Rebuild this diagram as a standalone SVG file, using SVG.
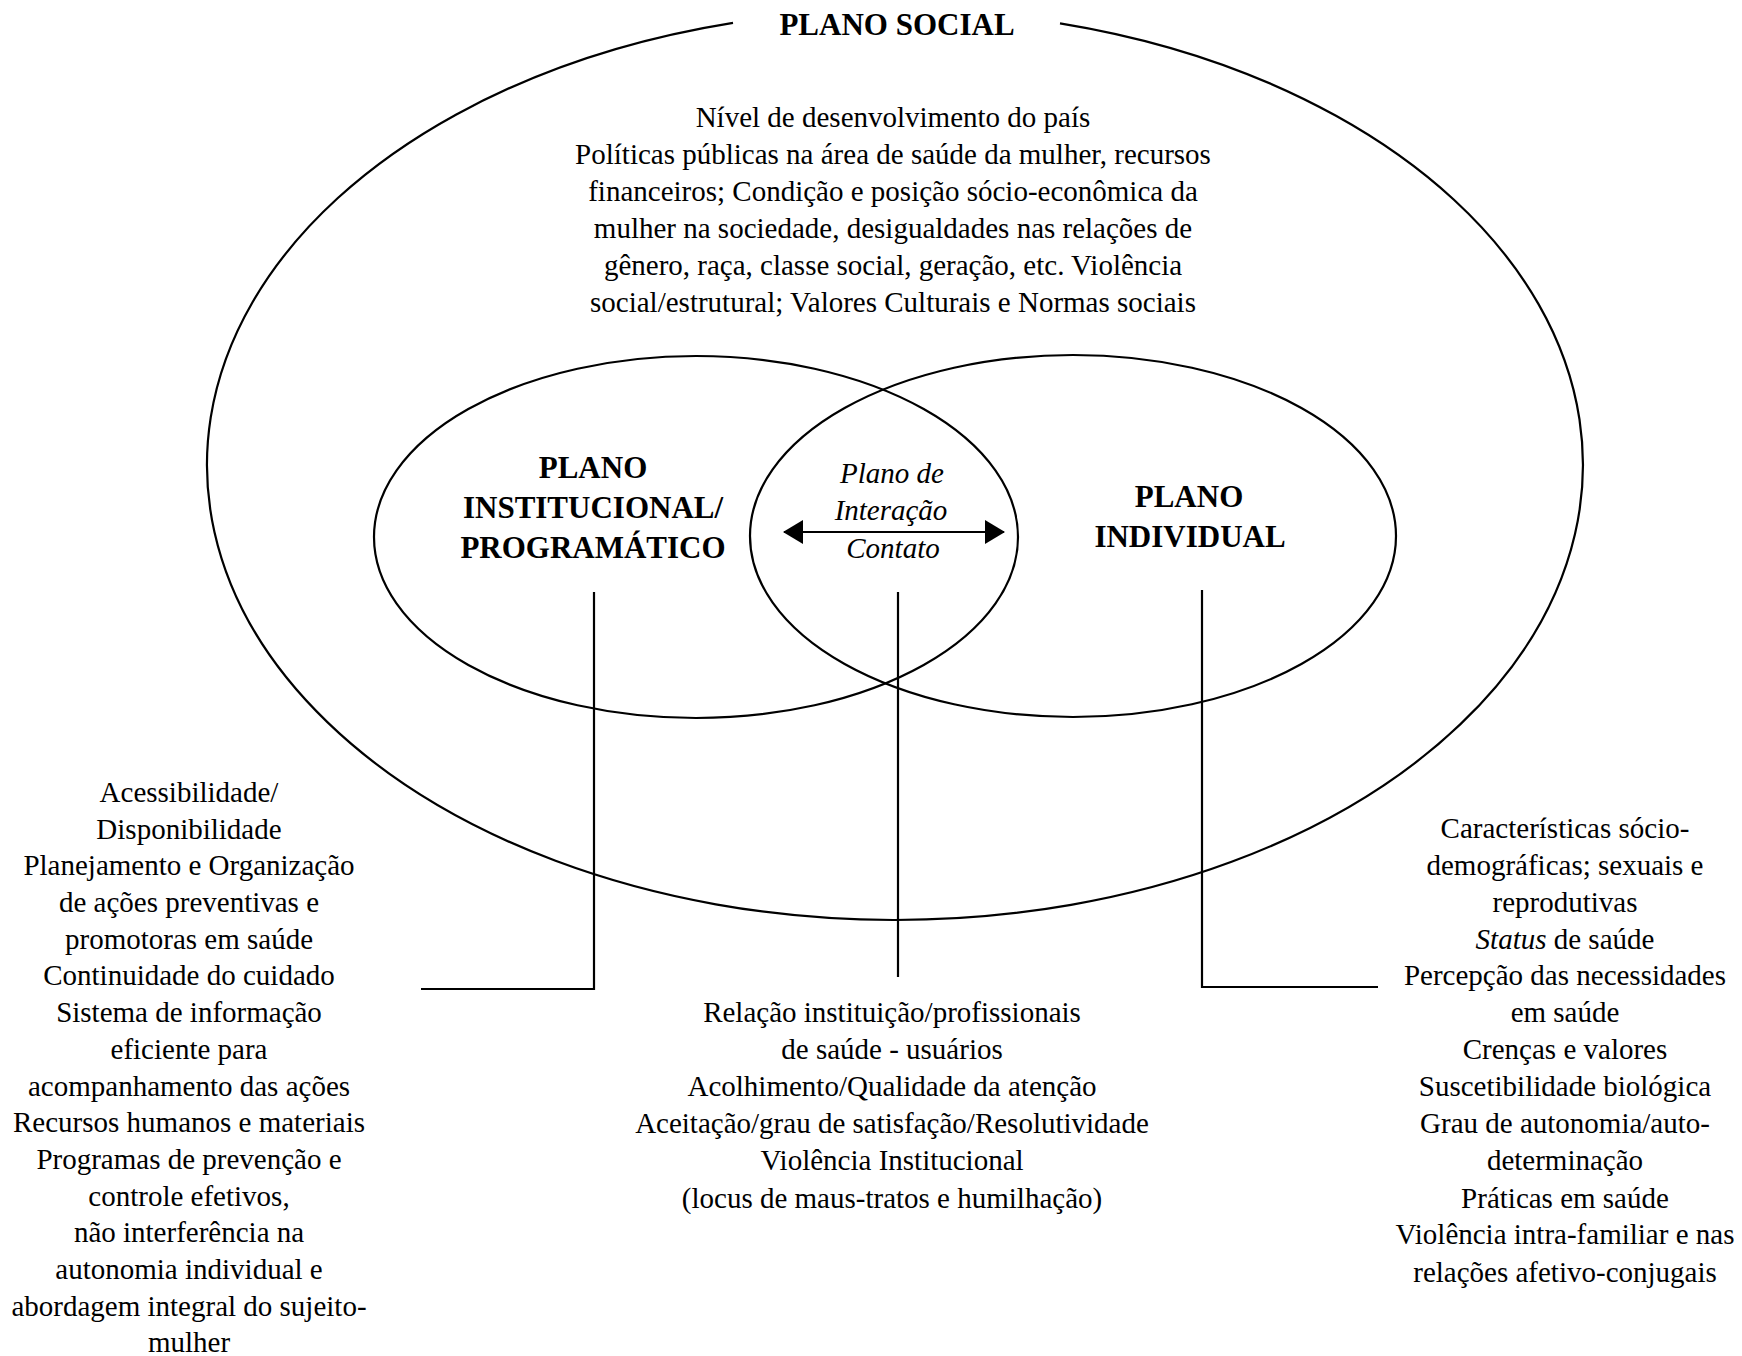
<svg xmlns="http://www.w3.org/2000/svg" width="1742" height="1356" viewBox="0 0 1742 1356">
<style>
.ln{fill:none;stroke:#000;stroke-width:2.2}
.t{font-family:"Liberation Serif","Times New Roman",serif;font-size:29px;fill:#000;text-anchor:middle}
.h{font-family:"Liberation Serif","Times New Roman",serif;font-size:31px;font-weight:bold;fill:#000;text-anchor:middle}
.it{font-family:"Liberation Serif","Times New Roman",serif;font-size:29px;font-style:italic;fill:#000;text-anchor:middle}
</style>
<defs>
<marker id="ah" viewBox="0 0 20 24" refX="19" refY="12" markerWidth="20" markerHeight="24" markerUnits="userSpaceOnUse" orient="auto-start-reverse">
<path d="M0,0 L20,12 L0,24 z" fill="#000"/>
</marker>
</defs>
<rect width="1742" height="1356" fill="#fff"/>

<g id="plano-social">
<path class="ln" d="M1060 23.3 A688 455 0 1 1 733 22.8"/>
<text class="h" x="897" y="35">PLANO SOCIAL</text>
<text class="t" x="893" y="127">Nível de desenvolvimento do país</text>
<text class="t" x="893" y="164">Políticas públicas na área de saúde da mulher, recursos</text>
<text class="t" x="893" y="201">financeiros; Condição e posição sócio-econômica da</text>
<text class="t" x="893" y="238">mulher na sociedade, desigualdades nas relações de</text>
<text class="t" x="893" y="275">gênero, raça, classe social, geração, etc. Violência</text>
<text class="t" x="893" y="312">social/estrutural; Valores Culturais e Normas sociais</text>
</g>

<g id="plano-institucional">
<ellipse class="ln" cx="696" cy="537" rx="322" ry="181"/>
<text class="h" x="593" y="478">PLANO</text>
<text class="h" x="593" y="518">INSTITUCIONAL/</text>
<text class="h" x="593" y="558">PROGRAMÁTICO</text>
<text class="t" x="189" y="802">Acessibilidade/</text>
<text class="t" x="189" y="839">Disponibilidade</text>
<text class="t" x="189" y="875">Planejamento e Organização</text>
<text class="t" x="189" y="912">de ações preventivas e</text>
<text class="t" x="189" y="949">promotoras em saúde</text>
<text class="t" x="189" y="985">Continuidade do cuidado</text>
<text class="t" x="189" y="1022">Sistema de informação</text>
<text class="t" x="189" y="1059">eficiente para</text>
<text class="t" x="189" y="1096">acompanhamento das ações</text>
<text class="t" x="189" y="1132">Recursos humanos e materiais</text>
<text class="t" x="189" y="1169">Programas de prevenção e</text>
<text class="t" x="189" y="1206">controle efetivos,</text>
<text class="t" x="189" y="1242">não interferência na</text>
<text class="t" x="189" y="1279">autonomia individual e</text>
<text class="t" x="189" y="1316">abordagem integral do sujeito-</text>
<text class="t" x="189" y="1352">mulher</text>
</g>

<g id="plano-individual">
<ellipse class="ln" cx="1073" cy="536" rx="323" ry="181"/>
<text class="h" x="1189" y="507">PLANO</text>
<text class="h" x="1190" y="547">INDIVIDUAL</text>
<text class="t" x="1565" y="838">Características sócio-</text>
<text class="t" x="1565" y="875">demográficas; sexuais e</text>
<text class="t" x="1565" y="912">reprodutivas</text>
<text class="t" x="1565" y="949"><tspan font-style="italic">Status</tspan> de saúde</text>
<text class="t" x="1565" y="985">Percepção das necessidades</text>
<text class="t" x="1565" y="1022">em saúde</text>
<text class="t" x="1565" y="1059">Crenças e valores</text>
<text class="t" x="1565" y="1096">Suscetibilidade biológica</text>
<text class="t" x="1565" y="1133">Grau de autonomia/auto-</text>
<text class="t" x="1565" y="1170">determinação</text>
<text class="t" x="1565" y="1208">Práticas em saúde</text>
<text class="t" x="1565" y="1244">Violência intra-familiar e nas</text>
<text class="t" x="1565" y="1282">relações afetivo-conjugais</text>
</g>

<g id="plano-interacao">
<text class="it" x="892" y="483">Plano de</text>
<text class="it" x="891" y="520">Interação</text>
<text class="it" x="893" y="558">Contato</text>
<text class="t" x="892" y="1022">Relação instituição/profissionais</text>
<text class="t" x="892" y="1059">de saúde - usuários</text>
<text class="t" x="892" y="1096">Acolhimento/Qualidade da atenção</text>
<text class="t" x="892" y="1133">Aceitação/grau de satisfação/Resolutividade</text>
<text class="t" x="892" y="1170">Violência Institucional</text>
<text class="t" x="892" y="1208">(locus de maus-tratos e humilhação)</text>
</g>

<g id="connectors">
<line class="ln" x1="784" y1="532" x2="1004" y2="532" stroke-width="3" marker-start="url(#ah)" marker-end="url(#ah)"/>
<polyline class="ln" points="594,592 594,989 421,989"/>
<line class="ln" x1="898" y1="592" x2="898" y2="977"/>
<polyline class="ln" points="1202,590 1202,987 1378,987"/>
</g>
</svg>
